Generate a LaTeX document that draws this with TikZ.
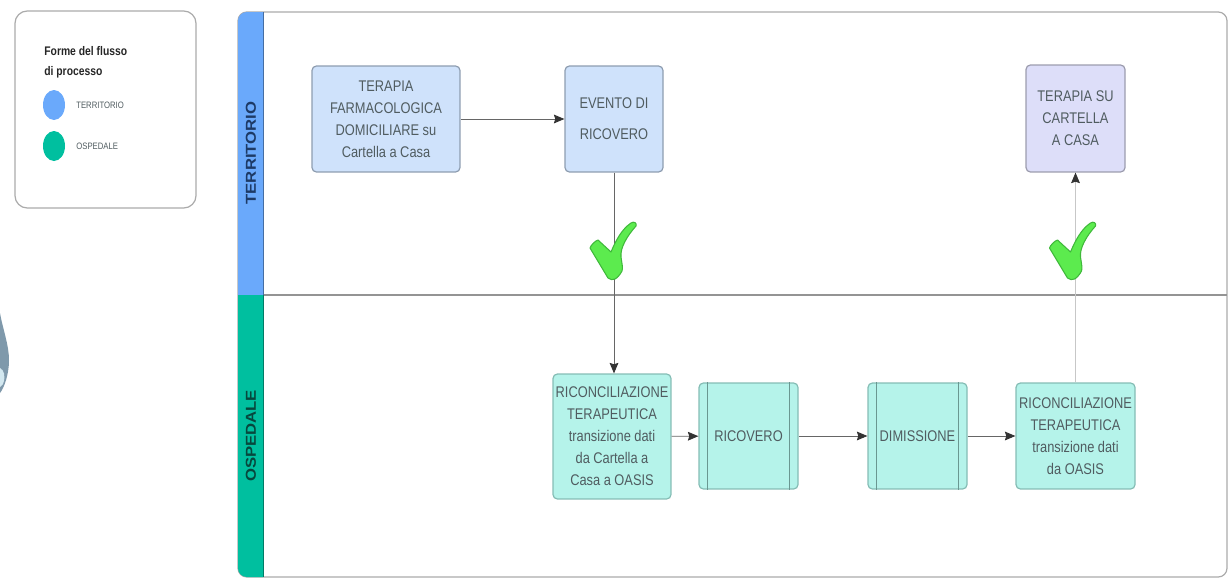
\documentclass[tikz,border=0pt]{standalone}
\usepackage{fontspec}
\setmainfont[FakeStretch=0.83]{Liberation Sans}
\newfontfamily\lanefont[FakeStretch=1.16]{Liberation Sans}
\usetikzlibrary{arrows.meta}
\definecolor{terrblue}{HTML}{6AA9FB}
\definecolor{ospgreen}{HTML}{00BF9F}
\definecolor{framegray}{HTML}{ABABAB}
\definecolor{terrfill}{HTML}{CFE2FB}
\definecolor{casafill}{HTML}{DDDEF9}
\definecolor{ospfill}{HTML}{B5F3EA}
\definecolor{terredge}{HTML}{8E9DB0}
\definecolor{casaedge}{HTML}{9C9CAE}
\definecolor{ospedge}{HTML}{85BDB5}
\definecolor{textgray}{HTML}{505C60}
\definecolor{terrtitle}{HTML}{1D3A66}
\definecolor{osptitle}{HTML}{07473D}
\definecolor{blobgray}{HTML}{7F99AB}
\definecolor{blobpale}{HTML}{D3E8F0}
\definecolor{checkgreen}{HTML}{5CEB4E}
\definecolor{checkedge}{HTML}{3FB83A}
\tikzset{
  flowbox/.style={line width=0.7pt, rounded corners=2.5pt, align=center, inner sep=0pt, text=textgray,
    font=\fontsize{8.8}{12.5}\selectfont},
  terrbox/.style={flowbox, fill=terrfill, draw=terredge, minimum width=#1, minimum height=2.12cm},
  casabox/.style={flowbox, fill=casafill, draw=casaedge, minimum width=#1, minimum height=2.14cm},
  ospbox/.style={flowbox, fill=ospfill, draw=ospedge, minimum width=#1, minimum height=2.12cm},
  flusso/.style={draw=black!60, line width=0.5pt, -{Stealth[inset=0.8pt,length=6pt,width=5pt,black!80]}},
  lanetitle/.style={rotate=90, font=\lanefont\fontsize{8.2}{10}\bfseries\selectfont},
  legendtext/.style={anchor=west, inner sep=0pt, font=\fontsize{5.3}{6}\selectfont, text=textgray},
  legendtitle/.style={anchor=west, inner sep=0pt, font=\fontsize{7.1}{8}\bfseries\selectfont, text=black!85},
  check/.pic={
    \draw[fill=checkgreen, draw=checkedge, line width=0.6pt, line join=round]
      (-23,-2) .. controls (-22,-5) and (-18,-9) .. (-15,-10) -- (-2,2)
      .. controls (3,-10) and (9,-21) .. (18,-27)
      .. controls (21,-29) and (24,-27) .. (23,-24)
      .. controls (14,-14) and (7,-2) .. (8,7)
      .. controls (9,14) and (10,18) .. (9,21) .. controls (7,25) and (4,28) .. (2,29)
      .. controls (0,30) and (-3,30) .. (-5,28) -- cycle;
  }
}
\begin{document}
\begin{tikzpicture}[x=0.02cm, y=-0.02cm]
  \useasboundingbox (0,0) rectangle (1230,578);

  % frammento a sinistra
  \fill[blobgray] (0,313) .. controls (3,330) and (9,345) .. (9,360) .. controls (9,375) and (4,388) .. (0,393) -- cycle;
  \fill[blobpale] (0,368) .. controls (4,370) and (6,376) .. (3,384) -- (0,387) -- cycle;

  % legenda
  \draw[framegray, line width=0.7pt, rounded corners=7pt] (15,11) rectangle (196,208);
  \node[legendtitle] (titolo1) at (44,51) {Forme del flusso};
  \node[legendtitle] (titolo2) at (44,72) {di processo};
  \fill[terrblue] (54,105) ellipse (11 and 15);
  \fill[ospgreen] (54,146) ellipse (11 and 15);
  \node[legendtext] (legterr) at (76,105) {TERRITORIO};
  \node[legendtext] (legosp) at (76,146) {OSPEDALE};

  % corsie
  \draw[framegray, line width=0.7pt, rounded corners=5pt] (238,12) rectangle (1227,577);
  \draw[black!42, line width=0.7pt] (238,295) -- (1227,295);
  \fill[terrblue] (238,295) [rounded corners=5pt] -- (238,12) [sharp corners] -- (263,12) -- (263,295) -- cycle;
  \fill[ospgreen] (238,295) [rounded corners=5pt] -- (238,577) [sharp corners] -- (263,577) -- (263,295) -- cycle;
  \draw[black!35!terrblue, line width=0.5pt] (263,12) -- (263,295);
  \draw[black!35!ospgreen, line width=0.5pt] (263,295) -- (263,577);
  \node[lanetitle, text=terrtitle] (territorio) at (251,153) {TERRITORIO};
  \node[lanetitle, text=osptitle] (ospedale) at (251,436) {OSPEDALE};

  % blocchi
  \node[terrbox=2.96cm] (terapia) at (386,119) {TERAPIA\\FARMACOLOGICA\\DOMICILIARE su\\Cartella a Casa};
  \node[terrbox=1.96cm] (evento) at (614,119) {EVENTO DI\\[5pt]RICOVERO};
  \node[casabox=1.98cm] (casa) at (1075.5,118.5) {TERAPIA SU\\CARTELLA\\A CASA};
  \node[ospbox=2.36cm, minimum height=2.5cm] (ricon1) at (612,436.5) {RICONCILIAZIONE\\TERAPEUTICA\\transizione dati\\da Cartella a\\Casa a OASIS};
  \node[ospbox=1.98cm] (ricovero) at (748.5,436) {RICOVERO};
  \node[ospbox=1.98cm] (dimissione) at (917.5,436) {DIMISSIONE};
  \node[ospbox=2.38cm] (ricon2) at (1075.5,436) {RICONCILIAZIONE\\TERAPEUTICA\\transizione dati\\da OASIS};

  % bande verticali dei sottoprocessi
  \foreach \n in {ricovero,dimissione}{
    \draw[ospedge!80!black, line width=0.5pt] ([xshift=0.19cm]\n.north west) -- ([xshift=0.19cm]\n.south west);
    \draw[ospedge!80!black, line width=0.5pt] ([xshift=-0.19cm]\n.north east) -- ([xshift=-0.19cm]\n.south east);
  }

  % frecce
  \draw[flusso] (terapia) -- (evento);
  \draw[flusso] (evento.south) -- (evento.south |- ricon1.north);
  \draw[flusso] (ricon1) -- (ricovero);
  \draw[flusso] (ricovero) -- (dimissione);
  \draw[flusso] (dimissione) -- (ricon2);
  \draw[flusso, draw=black!22] (ricon2) -- (casa);

  % spunte
  \pic at (613,250) {check};
  \pic at (1072.5,250) {check};
\end{tikzpicture}
\end{document}
